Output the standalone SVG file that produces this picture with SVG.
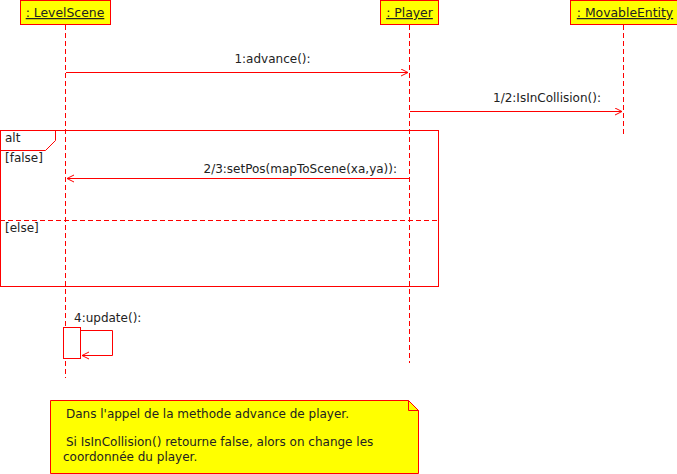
<svg xmlns="http://www.w3.org/2000/svg" width="677" height="474" viewBox="0 0 677 474">
<defs>
<style>
text{font-family:"DejaVu Sans","Liberation Sans",sans-serif;font-size:12px;fill:#222}
.title{font-size:12.4px}
.box{fill:#ffff00;stroke:#ff0000;stroke-width:1}
.life{stroke:#ff0000;stroke-width:1;stroke-dasharray:5,3;fill:none}
.msg{stroke:#ff0000;stroke-width:1;fill:none}
.frame{stroke:#ff0000;stroke-width:1;fill:none}
</style>
<marker id="open" markerWidth="10" markerHeight="10" refX="8" refY="4" orient="auto" markerUnits="userSpaceOnUse">
<path d="M1,0.5 L8,4 L1,7.5" fill="none" stroke="#ff0000" stroke-width="1"/>
</marker>
</defs>
<rect width="677" height="474" fill="#ffffff"/>
<g id="LevelScene">
<rect class="box" x="20.5" y="0.5" width="90" height="24"/>
<text class="title" x="65" y="17" text-anchor="middle" text-decoration="underline">: LevelScene</text>
<line class="life" x1="65.5" y1="25" x2="65.5" y2="378"/>
</g>
<g id="Player">
<rect class="box" x="380.5" y="0.5" width="58" height="24"/>
<text class="title" x="409.5" y="17" text-anchor="middle" text-decoration="underline">: Player</text>
<line class="life" x1="409.5" y1="25" x2="409.5" y2="363"/>
</g>
<g id="MovableEntity">
<rect class="box" x="570.5" y="0.5" width="107" height="24"/>
<text class="title" x="625" y="17" text-anchor="middle" text-decoration="underline">: MovableEntity</text>
<line class="life" x1="623.5" y1="25" x2="623.5" y2="136"/>
</g>
<g id="alt">
<rect class="frame" x="0.5" y="130.5" width="438" height="156"/>
<path class="frame" d="M0.5,150.5 H45.5 L55.5,140.5 V130.5"/>
<text x="5" y="142">alt</text>
<text x="5" y="162">[false]</text>
<line class="frame" x1="0" y1="220.5" x2="438" y2="220.5" stroke-dasharray="5,3"/>
<text x="5" y="232">[else]</text>
</g>
<g id="activation">
<rect x="63.5" y="327.5" width="17" height="31" fill="#ffffff" stroke="#ff0000"/>
</g>
<g id="connectors">
<line class="msg" x1="66" y1="72.5" x2="408" y2="72.5" marker-end="url(#open)"/>
<text x="272.5" y="63" text-anchor="middle">1:advance():</text>
<line class="msg" x1="410" y1="111.5" x2="622" y2="111.5" marker-end="url(#open)"/>
<text x="547" y="102" text-anchor="middle">1/2:IsInCollision():</text>
<line class="msg" x1="409" y1="178.5" x2="67" y2="178.5" marker-end="url(#open)"/>
<text x="397" y="173" text-anchor="end">2/3:setPos(mapToScene(xa,ya)):</text>
<path class="msg" d="M80.5,330.5 H112.5 V355.5 H82" marker-end="url(#open)"/>
<text x="74" y="322">4:update():</text>
</g>
<g id="note">
<path class="box" d="M50.5,400.5 H408.5 L418.5,410.5 V473.5 H50.5 Z"/>
<path d="M408.5,400.5 V410.5 H418.5" fill="none" stroke="#ff0000"/>
<text x="66" y="418">Dans l'appel de la methode advance de player.</text>
<text x="66" y="446">Si IsInCollision() retourne false, alors on change les</text>
<text x="63" y="461">coordonnée du player.</text>
</g>
</svg>
